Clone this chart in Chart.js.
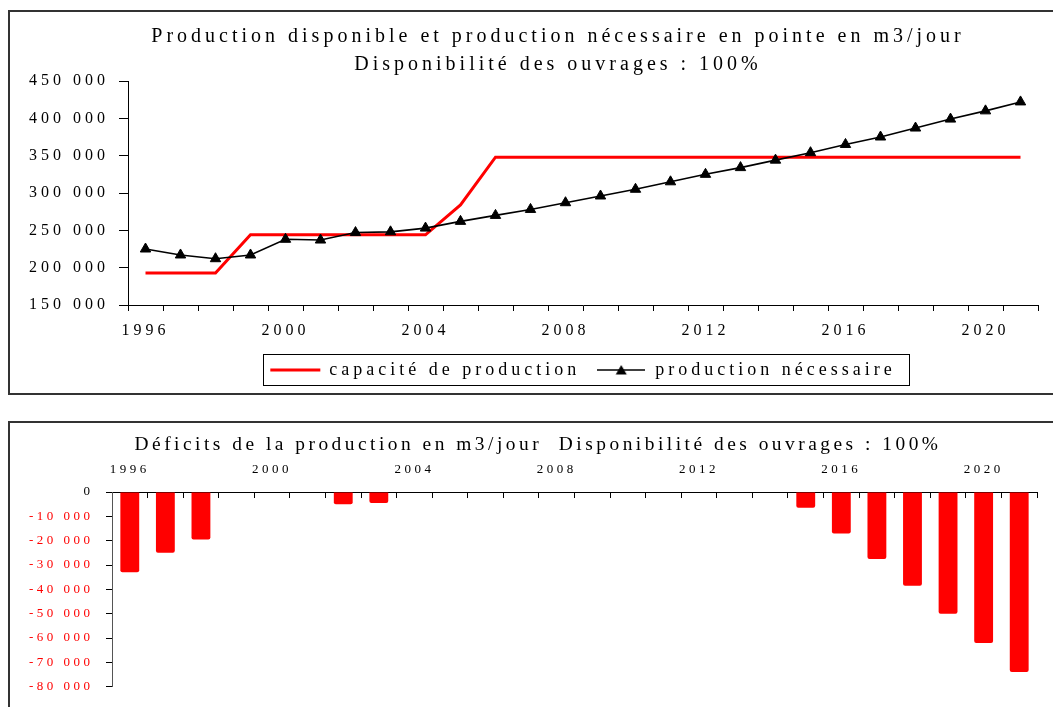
<!DOCTYPE html>
<html lang="fr">
<head>
<meta charset="utf-8">
<script src="https://cdn.jsdelivr.net/npm/chart.js@4.4.1/dist/chart.umd.min.js"></script>
<style>
  html, body { margin: 0; padding: 0; background: #fff; overflow: hidden; width: 1053px; height: 707px; }
  #haut, #bas { position: absolute; left: 0; }
  #haut { top: 0; }
  #bas { top: 410px; }
  .cadre { position: absolute; border: 2px solid #333; pointer-events: none; }
</style>
</head>
<body>
<canvas id="haut" width="1091" height="400"></canvas>
<canvas id="bas" width="1053" height="297"></canvas>
<div class="cadre" style="left:8px;top:10px;width:1100px;height:381px"></div>
<div class="cadre" style="left:8px;top:421px;width:1100px;height:400px"></div>
<script>
// Données
const annees = ['1996', '1997', '1998', '1999', '2000', '2001', '2002', '2003', '2004', '2005', '2006', '2007', '2008',
                '2009', '2010', '2011', '2012', '2013', '2014', '2015', '2016', '2017', '2018', '2019', '2020', '2021'];
const capacite = [193000, 193000, 193000, 244000, 244000, 244000, 244000, 244000, 244000, 284000, 348000, 348000, 348000,
                  348000, 348000, 348000, 348000, 348000, 348000, 348000, 348000, 348000, 348000, 348000, 348000, 348000];
const necessaire = [225000, 217000, 212000, 217000, 238000, 237000, 247000, 248000, 253000, 262000, 270000, 278000, 287000,
                    296000, 305000, 315000, 325000, 334000, 344000, 354000, 365000, 375000, 387000, 399000, 410000, 422000];
const deficits = [-33000, -25000, -19500, null, null, null, -5000, -4500, null, null, null, null, null,
                  null, null, null, null, null, null, -6500, -17000, -27500, -38500, -50000, -62000, -74000];

const titreHaut = ['Production disponible et production nécessaire en pointe en m3/jour', 'Disponibilité des ouvrages : 100%'];
const titreBas = 'Déficits de la production en m3/jour  Disponibilité des ouvrages : 100%';
const nomCapacite = 'capacité de production';
const nomNecessaire = 'production nécessaire';

Chart.defaults.font.family = "'Liberation Serif', 'Times New Roman', serif";
Chart.defaults.color = '#000';

// Format "450 000"
function milliers(v) {
    const s = Math.abs(v).toString().replace(/\B(?=(\d{3})+(?!\d))/g, ' ');
    return (v < 0 ? '-' : '') + s;
}

// Espacement des lettres (texte très aéré comme sur l'original)
function espacement(px) {
    return {
        id: 'espacement',
        beforeUpdate(chart) { chart.ctx.letterSpacing = px; },
        beforeDraw(chart) { chart.ctx.letterSpacing = px; }
    };
}

// Axe vide à droite, sert seulement à décaler le centrage du titre
function axeVide(largeur) {
    return {
        type: 'linear',
        position: 'right',
        grid: { display: false },
        border: { display: false },
        ticks: { display: false },
        afterFit(s) { s.width = largeur; }
    };
}

// Cadre autour de la légende
const cadreLegende = {
    id: 'cadreLegende',
    afterDraw(chart) {
        const boites = chart.legend && chart.legend.legendHitBoxes;
        if (!boites || !boites.length) return;
        const g = chart.ctx;
        const gauche = Math.min(...boites.map(b => b.left)) - 7;
        const droite = Math.max(...boites.map(b => b.left + b.width)) + 14;
        const haut = boites[0].top - 7;
        const bas = boites[0].top + boites[0].height + 6;
        g.save();
        g.strokeStyle = '#000';
        g.lineWidth = 1;
        g.strokeRect(Math.round(gauche) + 0.5, Math.round(haut) + 0.5, Math.round(droite - gauche), Math.round(bas - haut));
        g.restore();
    }
};

// Symbole de légende : trait noir avec triangle
const symboleNecessaire = (() => {
    const c = document.createElement('canvas');
    c.width = 48;
    c.height = 14;
    const g = c.getContext('2d');
    g.strokeStyle = '#000';
    g.lineWidth = 1.5;
    g.beginPath(); g.moveTo(0, 7); g.lineTo(48, 7); g.stroke();
    g.fillStyle = '#000';
    g.beginPath(); g.moveTo(24, 2); g.lineTo(29.5, 11.5); g.lineTo(18.5, 11.5); g.closePath(); g.fill();
    return c;
})();

// Graphique du haut : production disponible / nécessaire
new Chart(document.getElementById('haut'), {
    type: 'line',
    data: {
        labels: annees,
        datasets: [
            {
                label: nomNecessaire,
                data: necessaire,
                borderColor: '#000',
                backgroundColor: '#000',
                borderWidth: 1.6,
                pointStyle: 'triangle',
                pointRadius: 6,
                pointBorderWidth: 1,
                tension: 0
            },
            {
                label: nomCapacite,
                data: capacite,
                borderColor: '#ff0000',
                backgroundColor: '#ff0000',
                borderWidth: 3,
                pointRadius: 0,
                tension: 0
            }
        ]
    },
    options: {
        responsive: false,
        animation: false,
        layout: { padding: { left: 25, right: 0, top: 10, bottom: 11 } },
        plugins: {
            title: {
                display: true,
                text: titreHaut,
                color: '#000',
                font: { size: 20, weight: 'normal', lineHeight: 1.4 },
                padding: { top: 13, bottom: 2 }
            },
            legend: {
                position: 'bottom',
                fullSize: false,
                reverse: true,
                labels: {
                    usePointStyle: true,
                    pointStyleWidth: 50,
                    padding: 16,
                    color: '#000',
                    font: { size: 18 },
                    generateLabels(chart) {
                        const items = Chart.defaults.plugins.legend.labels.generateLabels(chart);
                        items.forEach(it => {
                            if (it.datasetIndex === 1) {
                                it.pointStyle = 'line';
                                it.lineWidth = 3;
                                it.strokeStyle = '#ff0000';
                            } else {
                                it.pointStyle = symboleNecessaire;
                            }
                        });
                        return items;
                    }
                }
            },
            tooltip: { enabled: false }
        },
        scales: {
            x: {
                offset: true,
                grid: { offset: true, drawOnChartArea: false, tickLength: 6, color: '#000' },
                border: { color: '#000' },
                ticks: {
                    autoSkip: false,
                    maxRotation: 0,
                    padding: 10,
                    font: { size: 16 },
                    callback: function(v, i) {
                        return i % 4 === 0 ? this.getLabelForValue(v) : '';
                    }
                },
                afterFit(s) { s.height = 40; }
            },
            y: {
                min: 150000,
                max: 450000,
                ticks: { stepSize: 50000, padding: 10, font: { size: 16 }, callback: v => milliers(v) },
                grid: { drawOnChartArea: false, tickLength: 9, color: '#000' },
                border: { color: '#000' },
                afterFit(s) { s.width = 103; }
            },
            y2: axeVide(53)
        }
    },
    plugins: [espacement('4px'), cadreLegende]
});

// Graphique du bas : déficits
new Chart(document.getElementById('bas'), {
    type: 'bar',
    data: {
        labels: annees,
        datasets: [{
            label: 'déficit',
            data: deficits,
            backgroundColor: '#ff0000',
            barPercentage: 0.53,
            categoryPercentage: 1,
            borderRadius: 2
        }]
    },
    options: {
        responsive: false,
        animation: false,
        layout: { padding: { left: 25, right: 2, top: 11, bottom: 20 } },
        plugins: {
            legend: { display: false },
            title: {
                display: true,
                text: titreBas,
                color: '#000',
                font: { size: 19.4, weight: 'normal', lineHeight: 1.3 },
                padding: { top: 11.4, bottom: 0 }
            },
            tooltip: { enabled: false }
        },
        scales: {
            x: {
                position: 'top',
                grid: { offset: true, drawOnChartArea: false, tickLength: -6, color: '#000' },
                border: { color: '#000' },
                ticks: {
                    autoSkip: false,
                    maxRotation: 0,
                    padding: 21,
                    font: { size: 13 },
                    callback: function(v, i) {
                        return i % 4 === 0 ? this.getLabelForValue(v) : '';
                    }
                },
                afterFit(s) { s.height = 34.4; }
            },
            y: {
                min: -80000,
                max: 0,
                ticks: {
                    stepSize: 10000,
                    padding: 12.5,
                    font: { size: 13 },
                    color: c => (c.tick && c.tick.value === 0 ? '#000' : '#ff0000'),
                    callback: v => milliers(v)
                },
                grid: { drawOnChartArea: false, tickLength: 6, color: '#000' },
                border: { color: '#555' },
                afterFit(s) { s.width = 87; }
            },
            y2: axeVide(14)
        }
    },
    plugins: [espacement('3.5px')]
});
</script>
</body>
</html>
